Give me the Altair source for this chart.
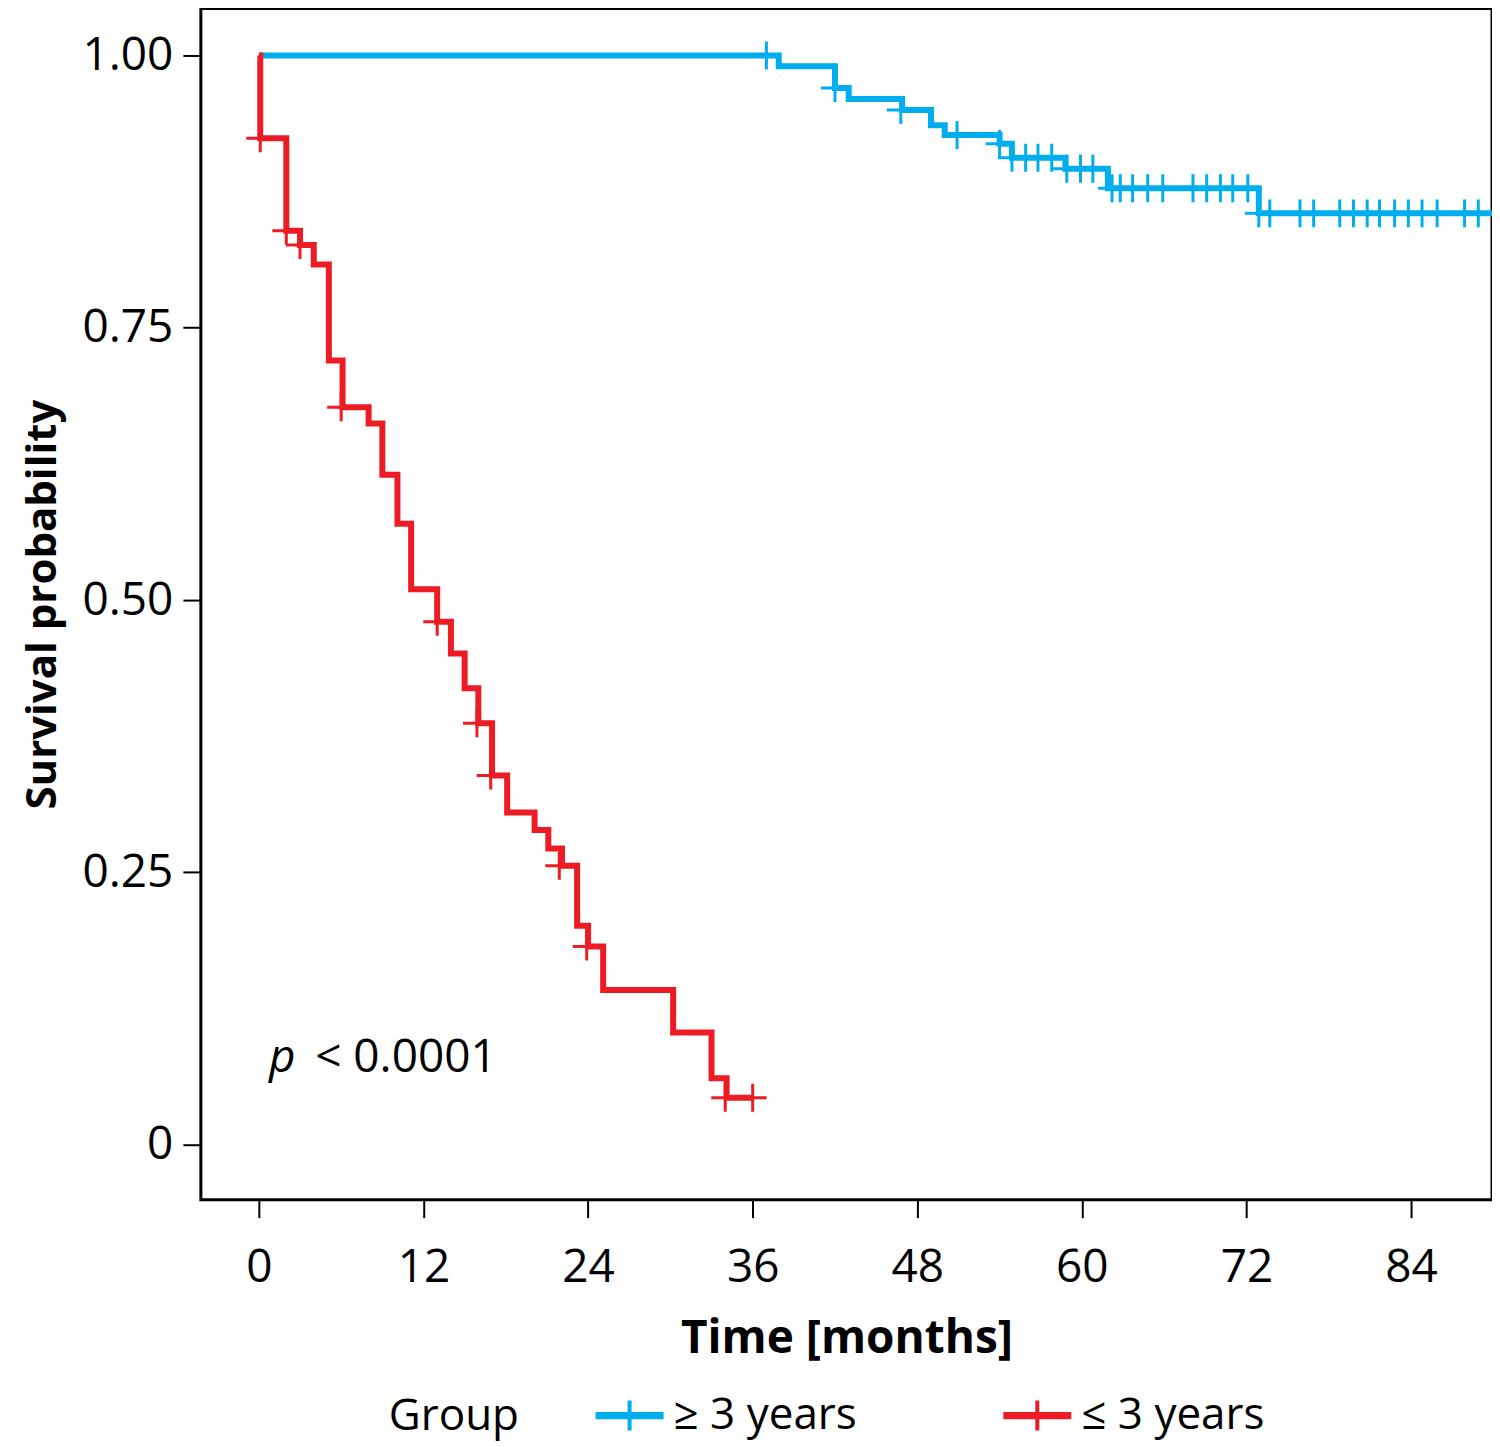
import altair as alt
import pandas as pd

# ---------------- data ----------------
groups = ["≥ 3 years", "≤ 3 years"]
colors = ["#00AEEF", "#ED1C24"]

# Kaplan-Meier step points (time in months, survival after the step)
blue_time = [0.0, 37.9, 42.0, 43.0, 46.9, 49.0, 50.0, 54.0, 54.9, 58.8, 61.9, 72.9, 91.0]
blue_surv = [1.000, 0.990, 0.970, 0.960, 0.950, 0.936, 0.927, 0.919, 0.906, 0.896, 0.878, 0.855, 0.855]

red_time = [0.0, 0.1, 2.0, 3.0, 4.0, 5.1, 6.1, 8.0, 9.0, 10.1, 11.1, 13.0, 14.0, 15.0,
            16.0, 17.0, 18.1, 20.1, 21.1, 22.1, 23.2, 24.0, 25.1, 30.2, 33.0, 34.1, 36.0]
red_surv = [1.000, 0.924, 0.839, 0.826, 0.808, 0.720, 0.677, 0.662, 0.615, 0.570, 0.510, 0.480,
            0.451, 0.419, 0.387, 0.339, 0.305, 0.289, 0.272, 0.256, 0.201, 0.182, 0.142, 0.103,
            0.061, 0.043, 0.043]

# censored observations
blue_cens_time = [37.0, 42.0, 46.8, 50.9, 54.0, 54.9, 55.9, 56.8, 57.8, 58.9, 59.9, 60.8,
                  62.2, 62.8, 63.7, 64.8, 65.9, 68.1, 69.1, 70.1, 71.0, 72.1,
                  72.9, 73.7, 75.9, 76.9, 78.8, 79.8, 80.8, 81.7, 82.8, 83.8, 84.8, 85.9, 87.9, 88.9]
blue_cens_surv = [1.000, 0.970, 0.950, 0.927, 0.919, 0.906, 0.906, 0.906, 0.906, 0.896, 0.896, 0.896,
                  0.878, 0.878, 0.878, 0.878, 0.878, 0.878, 0.878, 0.878, 0.878, 0.878,
                  0.855, 0.855, 0.855, 0.855, 0.855, 0.855, 0.855, 0.855, 0.855, 0.855, 0.855, 0.855, 0.855, 0.855]

red_cens_time = [0.1, 2.0, 3.0, 6.0, 13.0, 15.9, 16.9, 21.9, 23.9, 34.0, 36.0]
red_cens_surv = [0.924, 0.839, 0.826, 0.677, 0.480, 0.387, 0.339, 0.256, 0.182, 0.043, 0.043]

x_ticks = [0, 12, 24, 36, 48, 60, 72, 84]
y_ticks = [0, 0.25, 0.5, 0.75, 1.0]

p_label_time = [0.73, 4.1]
p_label_surv = [0.08, 0.08]
p_label_text = ["p", "< 0.0001"]

# ---------------- tables ----------------
curves = pd.concat([
    pd.DataFrame({"time": blue_time, "surv": blue_surv, "group": groups[0]}),
    pd.DataFrame({"time": red_time, "surv": red_surv, "group": groups[1]}),
])
cens = pd.concat([
    pd.DataFrame({"time": blue_cens_time, "surv": blue_cens_surv, "group": groups[0]}),
    pd.DataFrame({"time": red_cens_time, "surv": red_cens_surv, "group": groups[1]}),
])
ptext = pd.DataFrame({"time": p_label_time, "surv": p_label_surv, "text": p_label_text})

FONT = "Open Sans"
FS = 46
LFS = 44

xscale = alt.Scale(domain=[-4.23, 89.9], nice=False, zero=False)
yscale = alt.Scale(domain=[-0.0505, 1.0431], nice=False, zero=False)
cscale = alt.Scale(domain=groups, range=colors)

x_enc = alt.X("time:Q", scale=xscale,
              axis=alt.Axis(values=x_ticks, title="Time [months]", grid=False, domain=False,
                            tickSize=18, tickWidth=2, tickColor="black",
                            labelFontSize=FS, labelFont=FONT, labelColor="black", labelPadding=28,
                            titleFontSize=FS, titleFont=FONT, titleFontWeight="bold",
                            titleColor="black", titlePadding=26))
y_enc = alt.Y("surv:Q", scale=yscale,
              axis=alt.Axis(values=y_ticks, title="Survival probability", grid=False, domain=False,
                            tickSize=18, tickWidth=2, tickColor="black",
                            labelExpr="datum.value == 0 ? '0' : format(datum.value, '.2f')",
                            labelFontSize=FS, labelFont=FONT, labelColor="black", labelPadding=10,
                            titleFontSize=42, titleFont=FONT, titleFontWeight="bold",
                            titleColor="black", titlePadding=17))

# legend glyph: thick line with a thin vertical tick (layout box 40px, drawn 64px wide)
legend_symbol = "M-1.6,-0.08L1.6,-0.08L1.6,0.08L-1.6,0.08Z M0,-0.75L0,0.75"
cross = "M-1,0L1,0M0,-1L0,1"

lines = alt.Chart(curves).mark_line(interpolate="step-after", strokeWidth=6, clip=True).encode(
    x=x_enc, y=y_enc,
    color=alt.Color("group:N", scale=cscale,
                    legend=alt.Legend(orient="none", legendX=188, legendY=1386,
                                      direction="horizontal", title="Group", titleOrient="left",
                                      titleFontSize=LFS, titleFont=FONT, titleFontWeight="normal",
                                      titleColor="black", titlePadding=88, titleBaseline="middle",
                                      labelFontSize=LFS, labelFont=FONT, labelColor="black",
                                      labelLimit=0, labelOffset=22, columnPadding=140,
                                      symbolType=legend_symbol, symbolSize=1600,
                                      symbolStrokeWidth=4)),
    detail="group:N",
)

marks = alt.Chart(cens).mark_point(shape=cross, size=784, strokeWidth=3, filled=False,
                                   opacity=1, clip=True).encode(
    x="time:Q", y="surv:Q",
    color=alt.Color("group:N", scale=cscale, legend=None),
)

p_italic = alt.Chart(ptext.iloc[[0]]).mark_text(align="left", baseline="middle", fontSize=FS,
                                                font=FONT, fontStyle="italic", color="black").encode(
    x="time:Q", y="surv:Q", text="text:N")
p_rest = alt.Chart(ptext.iloc[[1]]).mark_text(align="left", baseline="middle", fontSize=FS,
                                              font=FONT, color="black").encode(
    x="time:Q", y="surv:Q", text="text:N")

chart = alt.layer(lines, marks, p_italic, p_rest).properties(
    width=1292, height=1192, background="white",
    padding={"left": 14, "top": 0, "right": 0, "bottom": 12}
).configure_view(stroke="black", strokeWidth=3)

chart.save("out.html", embed_options={"renderer": "svg", "actions": False})
